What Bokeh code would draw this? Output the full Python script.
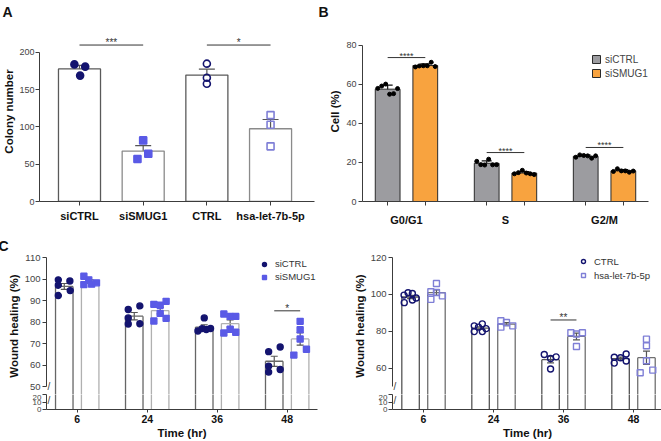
import numpy as np
from bokeh.plotting import figure
from bokeh.layouts import row, column
from bokeh.models import (ColumnDataSource, Whisker, TeeHead, FixedTicker,
                          Range1d, Legend, LegendItem, Label)
from bokeh.core.properties import value
from bokeh.embed import file_html
from bokeh.resources import INLINE

FONT = "Liberation Sans"

# ---------------- Panel A: colony number ----------------
A_CATEGORIES = ["siCTRL", "siSMUG1", "CTRL", "hsa-let-7b-5p"]
A_SICTRL = [184, 181, 169]
A_SISMUG1 = [82, 64, 57]
A_CTRL = [185, 166, 158]
A_HSA = [116, 103, 74]
A_JIT = [[-0.08, 0.09, 0.01], [0.0, 0.08, -0.09], [0.0, 0.0, 0.0], [0.0, 0.0, 0.0]]
A_SIG_LABELS = ["***", "*"]
A_SIG_PAIRS = [(0, 1), (2, 3)]
A_SIG_LEVEL = [210, 210]

# ---------------- Panel B: cell cycle ----------------
B_PHASES = ["G0/G1", "S", "G2/M"]
B_SERIES = ["siCTRL", "siSMUG1"]
B_SICTRL = [[58.0, 59.2, 60.2, 55.0, 55.3, 57.9],
            [20.6, 18.9, 18.7, 21.7, 18.8, 18.9],
            [22.7, 23.9, 23.6, 23.4, 22.2, 23.4]]
B_SISMUG1 = [[69.0, 69.5, 69.6, 69.6, 71.4, 69.2],
             [14.2, 14.8, 16.0, 14.6, 14.2, 13.8],
             [15.4, 16.8, 15.7, 15.7, 15.0, 15.6]]
B_SIG_LABELS = ["****", "****", "****"]
B_SIG_LEVEL = [73.8, 25.1, 27.7]
B_JIT = [-0.1, -0.06, -0.02, 0.02, 0.06, 0.1]

# ---------------- Panel C: wound healing ----------------
C_TIMES = ["6", "24", "36", "48"]
CL_SERIES = ["siCTRL", "siSMUG1"]
CL_SICTRL = [[99.6, 99.1, 97.1, 94.6, 92.3],
             [85.8, 87.5, 81.9, 79.1, 79.2],
             [81.9, 75.8, 76.9, 76.5, 77.0],
             [66.2, 68.4, 59.5, 56.7, 57.9]]
CL_SISMUG1 = [[101.3, 99.6, 97.4, 97.6, 98.2],
              [88.2, 87.8, 89.6, 84.0, 80.5, 81.7],
              [83.7, 82.6, 82.6, 74.9, 76.6, 75.2],
              [80.3, 76.4, 72.1, 67.3, 64.6]]
CL_SICTRL_JIT = [[-0.085, 0.08, -0.085, 0.085, -0.085],
                 [-0.086, 0.08, -0.086, -0.086, 0.08],
                 [0.0, -0.09, -0.03, 0.03, 0.09],
                 [-0.08, 0.085, -0.08, -0.08, 0.085]]
CL_SISMUG1_JIT = [[-0.09, -0.02, -0.09, 0.02, 0.09],
                  [-0.09, 0.0, 0.085, 0.0, -0.09, 0.085],
                  [-0.09, 0.0, 0.08, -0.09, 0.0, 0.08],
                  [0.0, 0.0, 0.0, 0.09, -0.09]]
CL_SIG = ("*", 3, 85.2)

CR_SERIES = ["CTRL", "hsa-let-7b-5p"]
CR_CTRL = [[99.6, 100.9, 100.5, 95.5, 96.9, 98.0],
           [82.9, 79.8, 82.2, 84.0, 79.8, 81.4],
           [67.4, 65.2, 66.1, 59.5],
           [65.9, 62.7, 65.6, 67.6, 63.8]]
CR_HSA = [[101.4, 105.9, 97.3, 99.2, 101.0],
          [85.7, 84.7, 82.2, 82.9],
          [79.2, 78.5, 79.2, 71.7],
          [75.7, 72.1, 64.0, 57.5, 58.9]]
CR_CTRL_JIT = [[-0.093, -0.036, 0.026, -0.09, 0.026, 0.08],
               [-0.09, -0.09, -0.03, 0.025, 0.025, 0.08],
               [-0.09, 0.0, 0.08, 0.0],
               [-0.09, -0.09, 0.0, 0.08, 0.08]]
CR_HSA_JIT = [[-0.08, 0.0, -0.08, 0.085, 0.0],
              [-0.08, 0.0, -0.08, 0.09],
              [-0.08, 0.0, 0.085, 0.0],
              [0.0, 0.0, 0.0, -0.09, 0.09]]
CR_SIG = ("**", 2, 86.1)

# ---------------- styling ----------------
AX = "#3c3c3c"
NAVY = "#14146f"
BLUE = "#5a5ae6"
LAV = "#7f7fd6"
GRAY = "#9c9ca0"
ORANGE = "#f8a33f"


def stats(vals, kind="sem"):
    a = np.asarray(vals, float)
    m = a.mean()
    sd = a.std(ddof=1)
    return m, (sd / np.sqrt(len(a)) if kind == "sem" else sd)


def base_fig(**kw):
    p = figure(output_backend="svg", toolbar_location=None, **kw)
    p.grid.visible = False
    p.outline_line_color = None
    return p


def style_axis(ax, size="9px", bold=False, color="#444"):
    ax.axis_line_color = AX
    ax.major_tick_line_color = AX
    ax.minor_tick_line_color = None
    ax.major_tick_in = 0
    ax.major_tick_out = 4
    ax.major_label_text_font = FONT
    ax.major_label_text_font_size = size
    ax.major_label_text_color = color
    ax.major_label_text_font_style = "bold" if bold else "normal"
    ax.major_label_standoff = 2
    ax.axis_label_text_font = FONT
    ax.axis_label_text_font_style = "bold"
    ax.axis_label_text_font_size = "11.5px"
    ax.axis_label_text_color = "#111"
    ax.axis_label_standoff = 2


def panel_title(p, text, offset, standoff):
    p.title.text = text
    p.title.text_font = FONT
    p.title.text_font_size = "14px"
    p.title.text_font_style = "bold"
    p.title.text_color = "#111"
    p.title.align = "left"
    p.title.offset = offset
    p.title.standoff = standoff


def whisker(p, src, size, color="#555"):
    p.add_layout(Whisker(source=src, base="x", upper="upper", lower="lower",
                         line_color=color, line_width=1.2,
                         upper_head=TeeHead(size=size, line_color=color, line_width=1.2),
                         lower_head=TeeHead(size=size, line_color=color, line_width=1.2)))


def sig(p, x0, x1, level, label, size="10px"):
    p.segment(x0=[x0], x1=[x1], y0=[level], y1=[level], line_color="#333", line_width=1)
    p.text(x=[(x0 + x1) / 2], y=[level], text=[label], text_align="center",
           text_baseline="bottom", y_offset=3, text_font=value(FONT),
           text_font_size=size, text_color="#333")


# ================= Panel A =================
pa = base_fig(frame_width=275, frame_height=180, min_border_left=35, min_border_right=2,
              min_border_top=20, min_border_bottom=28,
              x_range=Range1d(-0.628, 3.69), y_range=Range1d(0, 241.6))
panel_title(pa, "A", -37, 3)
a_series = [A_SICTRL, A_SISMUG1, A_CTRL, A_HSA]
a_st = [stats(v) for v in a_series]
ax_pos = list(range(len(A_CATEGORIES)))
a_src = ColumnDataSource(dict(x=ax_pos, top=[m for m, e in a_st],
                              upper=[m + e for m, e in a_st], lower=[m - e for m, e in a_st],
                              line=["#5a5a5a", "#8a8a8a", "#5a5a5a", "#8a8a8a"]))
pa.vbar(x="x", top="top", width=0.66, source=a_src, fill_color="white",
        line_color="line", line_width=1.3)
whisker(pa, a_src, 16)
a_mk = [("circle", NAVY, NAVY), ("square", BLUE, BLUE), ("circle", None, NAVY), ("square", None, LAV)]
for i, (vals, jit, (mk, fc, lc)) in enumerate(zip(a_series, A_JIT, a_mk)):
    pa.scatter(x=[i + j for j in jit], y=vals, marker=mk, size=7,
               fill_color=fc, line_color=lc, line_width=1.6)
for lab, (i0, i1), lev in zip(A_SIG_LABELS, A_SIG_PAIRS, A_SIG_LEVEL):
    sig(pa, i0, i1, lev, lab)
for ax in pa.axis:
    style_axis(ax)
pa.yaxis.major_label_standoff = 1
pa.yaxis.axis_label_standoff = 1
pa.xaxis.ticker = FixedTicker(ticks=ax_pos)
pa.xaxis.major_label_overrides = {i: c for i, c in enumerate(A_CATEGORIES)}
pa.xaxis.major_label_text_font_style = "bold"
pa.xaxis.major_label_text_font_size = "11px"
pa.xaxis.major_label_text_color = "#111"
pa.xaxis.major_label_standoff = 4
pa.yaxis.ticker = FixedTicker(ticks=[0, 50, 100, 150, 200])
pa.yaxis.bounds = (0, 200)
pa.yaxis.axis_label = "Colony number"

# ================= Panel B =================
OFF_B = 0.19
pb = base_fig(frame_width=286, frame_height=180, min_border_left=46, min_border_right=17,
              min_border_top=20, min_border_bottom=28,
              x_range=Range1d(-0.444, 2.444), y_range=Range1d(0, 92.3))
panel_title(pb, "B", -44, 3)
b_rends = []
for data, col, d in [(B_SICTRL, GRAY, -OFF_B), (B_SISMUG1, ORANGE, OFF_B)]:
    st = [stats(v, "sd") for v in data]
    xs = [g + d for g in range(len(B_PHASES))]
    src = ColumnDataSource(dict(x=xs, top=[m for m, e in st],
                                upper=[m + e for m, e in st], lower=[m - e for m, e in st]))
    r = pb.vbar(x="x", top="top", width=0.25, source=src, fill_color=col,
                line_color="#2a2a2a", line_width=1)
    b_rends.append(r)
    whisker(pb, src, 10, color="#111")
    for x, vals in zip(xs, data):
        pb.scatter(x=[x + j for j in B_JIT], y=vals, size=4, fill_color="black",
                   line_color="black")
for g, (lab, lev) in enumerate(zip(B_SIG_LABELS, B_SIG_LEVEL)):
    sig(pb, g - OFF_B, g + OFF_B, lev, lab, size="9px")
for ax in pb.axis:
    style_axis(ax)
pb.xaxis.ticker = FixedTicker(ticks=list(range(len(B_PHASES))),
                              minor_ticks=[g + d for g in range(len(B_PHASES)) for d in (-OFF_B, OFF_B)])
pb.xaxis.major_label_overrides = {i: c for i, c in enumerate(B_PHASES)}
pb.xaxis.major_tick_out = 0
pb.xaxis.minor_tick_out = 4
pb.xaxis.minor_tick_in = 0
pb.xaxis.minor_tick_line_color = AX
pb.xaxis.major_label_text_font_style = "bold"
pb.xaxis.major_label_text_font_size = "11px"
pb.xaxis.major_label_text_color = "#111"
pb.xaxis.major_label_standoff = 8
pb.yaxis.ticker = FixedTicker(ticks=[0, 20, 40, 60, 80])
pb.yaxis.bounds = (0, 80)
pb.yaxis.axis_label = "Cell (%)"
leg_b = Legend(items=[LegendItem(label=s, renderers=[r]) for s, r in zip(B_SERIES, b_rends)],
               location=(229, 121), background_fill_alpha=0, border_line_color=None,
               label_text_font=FONT, label_text_font_size="10px", label_text_color="#444",
               glyph_width=10, glyph_height=10, label_height=14, label_standoff=4,
               spacing=0, padding=0, margin=0)
pb.add_layout(leg_b)


# ================= Panel C =================
OFF_C = 0.185
W_C = 0.25


def c_panel(s1, s2, j1, j2, names, styles, bar_lines, y_top, y_ticks, fw, mbl, mbr,
            xr, sig_spec, title, leg_loc, leg_h):
    upp = (y_top - 50) / 129.0
    top = base_fig(frame_width=fw, frame_height=137, min_border_left=mbl, min_border_right=mbr,
                   min_border_top=28, min_border_bottom=0, x_range=xr,
                   y_range=Range1d(50 - 8 * upp, y_top), x_axis_location=None)
    bot = base_fig(frame_width=fw, frame_height=15, min_border_left=mbl, min_border_right=mbr,
                   min_border_top=0, min_border_bottom=32, x_range=xr,
                   y_range=Range1d(0, 20))
    if title:
        panel_title(top, title, -mbl - 2, 8)
    rends = []
    for data, jit, d, (mk, fc, lc), bl in zip([s1, s2], [j1, j2], [-OFF_C, OFF_C], styles, bar_lines):
        st = [stats(v) for v in data]
        xs = [g + d for g in range(len(C_TIMES))]
        tops = [m for m, e in st]
        src = ColumnDataSource(dict(x=xs, top=tops,
                                    left=[x - W_C / 2 for x in xs], right=[x + W_C / 2 for x in xs],
                                    zero=[0] * len(xs),
                                    upper=[m + e for m, e in st], lower=[m - e for m, e in st]))
        for p in (top, bot):
            p.segment(x0="left", x1="left", y0="zero", y1="top", source=src,
                      line_color=bl, line_width=1.3)
            p.segment(x0="right", x1="right", y0="zero", y1="top", source=src,
                      line_color=bl, line_width=1.3)
        top.segment(x0="left", x1="right", y0="top", y1="top", source=src,
                    line_color=bl, line_width=1.3)
        whisker(top, src, 7)
        px, py = [], []
        for x, vals, jj in zip(xs, data, jit):
            px += [x + j for j in jj]
            py += list(vals)
        r = top.scatter(x=px, y=py, marker=mk, size=6, fill_color=fc, line_color=lc,
                        line_width=1.4)
        rends.append(r)
    lab, g, lev = sig_spec
    sig(top, g - OFF_C, g + OFF_C, lev, lab)
    for ax in top.axis + bot.axis:
        style_axis(ax, size="9.5px")
    top.yaxis.ticker = FixedTicker(ticks=y_ticks)
    top.yaxis.bounds = (50, y_top)
    top.yaxis.axis_label = "Wound healing (%)"
    bot.yaxis.ticker = FixedTicker(ticks=[0, 10, 20])
    bot.yaxis.bounds = (0, 20)
    bot.yaxis.major_label_text_font_size = "8px"
    bot.yaxis.major_label_standoff = 1
    bot.xaxis.ticker = FixedTicker(ticks=list(range(len(C_TIMES))))
    bot.xaxis.major_label_overrides = {i: t for i, t in enumerate(C_TIMES)}
    bot.xaxis.major_tick_out = 3
    bot.xaxis.major_label_text_font_style = "bold"
    bot.xaxis.major_label_text_font_size = "10.5px"
    bot.xaxis.major_label_text_color = "#111"
    bot.xaxis.axis_label = "Time (hr)"
    bot.xaxis.axis_label_standoff = 1
    top.add_layout(Label(x=xr.start, y=50, x_offset=1, text="/", text_align="left",
                         text_baseline="middle", text_font=FONT, text_font_size="10px",
                         text_color=AX))
    bot.add_layout(Label(x=xr.start, y=20, x_offset=1, text="/", text_align="left",
                         text_baseline="top", text_font=FONT, text_font_size="10px",
                         text_color=AX))
    leg = Legend(items=[LegendItem(label=n, renderers=[r]) for n, r in zip(names, rends)],
                 location=leg_loc, background_fill_alpha=0, border_line_color=None,
                 label_text_font=FONT, label_text_font_size="9.5px", label_text_color="#333",
                 glyph_width=10, glyph_height=10, label_height=leg_h, label_standoff=6,
                 spacing=0, padding=0, margin=0)
    top.add_layout(leg)
    return column(top, bot)


c_left = c_panel(CL_SICTRL, CL_SISMUG1, CL_SICTRL_JIT, CL_SISMUG1_JIT, CL_SERIES,
                 [("circle", NAVY, NAVY), ("square", BLUE, BLUE)], ["#666666", "#b0b0b0"],
                 110, list(range(50, 111, 10)), 271, 46, 33,
                 Range1d(-0.439, 3.433), CL_SIG, "C", (213, 111), 13)
c_right = c_panel(CR_CTRL, CR_HSA, CR_CTRL_JIT, CR_HSA_JIT, CR_SERIES,
                  [("circle", None, NAVY), ("square", None, LAV)], ["#555555", "#707070"],
                  120, list(range(60, 121, 20)), 270, 39, 2,
                  Range1d(-0.443, 3.414), CR_SIG, None, (186, 112), 14)

layout = column(row(pa, pb), row(c_left, c_right))
open("out.html", "w").write(file_html(layout, INLINE))
